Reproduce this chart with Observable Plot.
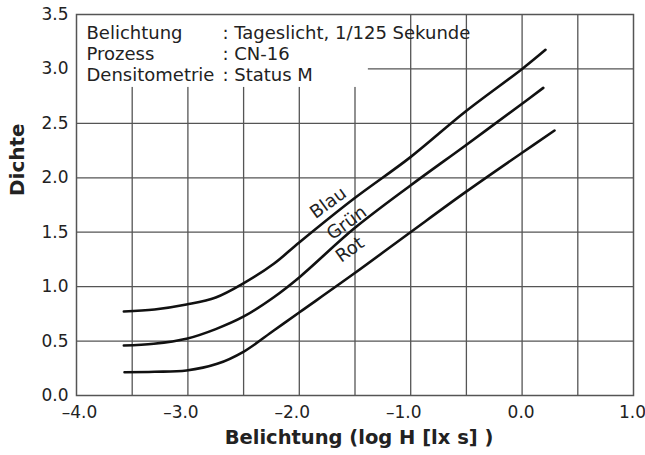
<!DOCTYPE html>
<html>
<head>
<meta charset="utf-8">
<script src="https://cdn.jsdelivr.net/npm/d3@7"></script>
<script src="https://cdn.jsdelivr.net/npm/@observablehq/plot@0.6"></script>
<style>
  html, body { margin: 0; padding: 0; background: #fff; }
  #chart svg { display: block; }
</style>
</head>
<body>
<div id="chart"></div>
<script>
// ---- data ----
const blauX = [-3.575, -3.3, -3.013, -2.75, -2.498, -2.229, -1.998, -1.511, -1.002, -0.508, 0.0, 0.21];
const blauY = [0.772, 0.79, 0.836, 0.90, 1.032, 1.21, 1.408, 1.807, 2.19, 2.609, 3.0, 3.176];
const gruenX = [-3.575, -3.306, -3.013, -2.75, -2.498, -2.229, -1.998, -1.511, -1.002, -0.508, 0.0, 0.19];
const gruenY = [0.459, 0.475, 0.521, 0.61, 0.726, 0.903, 1.087, 1.531, 1.929, 2.297, 2.68, 2.826];
const rotX = [-3.569, -3.3, -3.013, -2.737, -2.498, -2.229, -1.998, -1.511, -1.002, -0.508, 0.0, 0.291];
const rotY = [0.214, 0.218, 0.230, 0.291, 0.404, 0.597, 0.765, 1.118, 1.5, 1.868, 2.23, 2.434];

const seriesNames = ["Blau", "Grün", "Rot"];
const labelX = [-1.74, -1.575, -1.545];
const labelY = [1.77, 1.585, 1.34];

const xTicks = [-4, -3, -2, -1, 0, 1];
const yTicks = [0, 0.5, 1, 1.5, 2, 2.5, 3, 3.5];
const gridX = [-3.5, -3, -2.5, -2, -1.5, -1, -0.5, 0, 0.5];
const gridY = [0.5, 1, 1.5, 2, 2.5, 3];

const legendKeys = ["Belichtung", "Prozess", "Densitometrie"];
const legendValues = [": Tageslicht, 1/125 Sekunde", ": CN-16", ": Status M"];
const legendBox = {x1: -4, x2: -1.38, y1: 2.83, y2: 3.5};

const xLabel = "Belichtung (log H [lx s] )";
const yLabel = "Dichte";

// ---- build tables ----
const toRows = (xs, ys, name) => xs.map((x, i) => ({x, y: ys[i], name}));
const curves = [
  ...toRows(blauX, blauY, "Blau"),
  ...toRows(gruenX, gruenY, "Grün"),
  ...toRows(rotX, rotY, "Rot")
];
const labels = seriesNames.map((name, i) => ({name, x: labelX[i], y: labelY[i]}));

const fmt = d => (d < 0 ? "\u2013" : "") + Math.abs(d).toFixed(1);
const FONT = "'DejaVu Sans', 'Liberation Sans', Arial, sans-serif";
const GRID = "#555";

const chart = Plot.plot({
  width: 645,
  height: 455,
  marginLeft: 76,
  marginRight: 12,
  marginTop: 14,
  marginBottom: 60,
  style: {fontFamily: FONT, background: "#fff", color: "#222"},
  x: {domain: [-4, 1]},
  y: {domain: [0, 3.5]},
  marks: [
    Plot.ruleX(gridX, {stroke: GRID, strokeWidth: 1.3}),
    Plot.ruleY(gridY, {stroke: GRID, strokeWidth: 1.3}),
    Plot.rect([legendBox], {x1: "x1", x2: "x2", y1: "y1", y2: "y2", fill: "white"}),
    Plot.frame({stroke: GRID, strokeWidth: 1.5}),
    Plot.line(curves, {x: "x", y: "y", z: "name", stroke: "#111", strokeWidth: 2.6, curve: "catmull-rom"}),
    Plot.text(labels, {x: "x", y: "y", text: "name", rotate: -36, fontSize: 18, fill: "#222"}),
    Plot.axisY(yTicks, {tickSize: 0, tickPadding: 8, tickFormat: fmt, fontSize: 17, label: null}),
    Plot.axisX(xTicks.filter(d => d === -4), {tickSize: 0, tickPadding: 10, tickFormat: fmt, fontSize: 17, dx: 3, label: null}),
    Plot.axisX(xTicks.filter(d => d < 0 && d !== -4), {tickSize: 0, tickPadding: 10, tickFormat: fmt, fontSize: 17, dx: -7, label: null}),
    Plot.axisX(xTicks.filter(d => d >= 0), {tickSize: 0, tickPadding: 10, tickFormat: fmt, fontSize: 17, dx: -1, label: null}),
    Plot.text([legendKeys.join("\n")], {frameAnchor: "top-left", dx: 10, dy: 10, lineAnchor: "top", lineHeight: 21 / 18, textAnchor: "start", fontSize: 18, fill: "#222"}),
    Plot.text([legendValues.join("\n")], {frameAnchor: "top-left", dx: 146, dy: 10, lineAnchor: "top", lineHeight: 21 / 18, textAnchor: "start", fontSize: 18, fill: "#222"}),
    Plot.text([yLabel], {frameAnchor: "left", rotate: -90, dx: -59, dy: -9, fontWeight: "bold", fontSize: 20, fill: "#222"}),
    Plot.text([xLabel], {frameAnchor: "bottom", dx: 4, dy: 42, lineAnchor: "middle", fontWeight: "bold", fontSize: 19.5, fill: "#222"})
  ]
});
document.getElementById("chart").appendChild(chart);
</script>
</body>
</html>
